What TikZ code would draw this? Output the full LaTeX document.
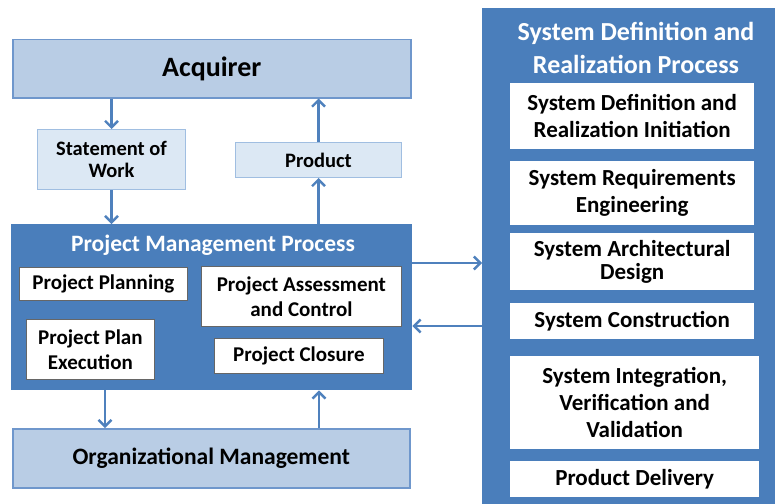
\documentclass[tikz,border=0pt]{standalone}
\usepackage{fontspec}
\setmainfont{Carlito}
\usetikzlibrary{arrows.meta}
\definecolor{mainblue}{RGB}{74,126,187}
\definecolor{lightblue}{RGB}{185,205,229}
\definecolor{paleblue}{RGB}{220,232,244}
\definecolor{edgeblue}{RGB}{111,151,204}
\definecolor{paleedge}{RGB}{160,190,225}
\definecolor{arrblue}{RGB}{79,129,189}
\newcommand{\fs}[1]{\fontsize{#1}{1.2\dimexpr#1pt\relax}\selectfont}
\tikzset{
  base/.style={rectangle, inner sep=0pt, anchor=north west, align=center, font=\bfseries},
  bigbox/.style={base, fill=lightblue, draw=edgeblue, line width=1.5pt},
  smallbox/.style={base, fill=paleblue, draw=paleedge, line width=1pt},
  procbox/.style={base, fill=mainblue, draw=none},
  pmbox/.style={base, fill=white, draw=black!60, line width=0.8pt},
  sdbox/.style={base, fill=white, draw=none},
  arr/.style={draw=arrblue, line width=2.8pt, -{Straight Barb[length=6.5pt,width=13pt,line width=2.4pt]}},
}
\begin{document}
\begin{tikzpicture}[x=1pt,y=-1pt]
\useasboundingbox (0,0) rectangle (775,503);
% Acquirer
\node[bigbox, minimum width=398pt, minimum height=58pt, font=\bfseries\fs{28}] (acq) at (12,39) {Acquirer};
\node[smallbox, minimum width=148pt, minimum height=60pt, font=\bfseries\fs{20.5}] (sow) at (37,129) {Statement of\\[-2pt]Work};
\node[smallbox, minimum width=166pt, minimum height=35pt, font=\bfseries\fs{20.5}] (prod) at (235,142) {Product};
% Project Management Process
\node[procbox, minimum width=401pt, minimum height=166pt] (pmp) at (11,224) {};
\node[font=\bfseries\fs{23.5}, text=white, inner sep=0pt] (pmpt) at (213,245) {Project Management Process};
\node[pmbox, minimum width=168pt, minimum height=33pt, font=\bfseries\fs{21}] (pp) at (19,267) {Project Planning};
\node[pmbox, minimum width=200pt, minimum height=60pt, font=\bfseries\fs{21}] (pac) at (201,266) {Project Assessment\\[0pt]and Control};
\node[pmbox, minimum width=128pt, minimum height=60pt, font=\bfseries\fs{21}] (ppe) at (26,319) {Project Plan\\[0pt]Execution};
\node[pmbox, minimum width=169pt, minimum height=35pt, font=\bfseries\fs{21}] (pc) at (214,338) {Project Closure};
% Organizational Management
\node[bigbox, minimum width=397pt, minimum height=59pt, font=\bfseries\fs{23.5}] (om) at (12,428) {Organizational Management};
% System Definition and Realization Process
\node[procbox, minimum width=300pt, minimum height=510pt] (sdrp) at (482,8) {};
\node[font=\bfseries\fs{26}, text=white, inner sep=0pt, align=center] (sdrpt) at (636,48) {System Definition and\\[1pt]Realization Process};
\node[sdbox, minimum width=244pt, minimum height=66pt, font=\bfseries\fs{23}] (s1) at (510,83) {System Definition and\\[-0.5pt]Realization Initiation};
\node[sdbox, minimum width=244pt, minimum height=64pt, font=\bfseries\fs{23}] (s2) at (510,161) {System Requirements\\[-0.5pt]Engineering};
\node[sdbox, minimum width=244pt, minimum height=57pt, font=\bfseries\fs{23}] (s3) at (510,233) {System Architectural\\[-5pt]Design};
\node[sdbox, minimum width=244pt, minimum height=36pt, font=\bfseries\fs{23}] (s4) at (510,303) {System Construction};
\node[sdbox, minimum width=249pt, minimum height=93pt, font=\bfseries\fs{23}] (s5) at (510,356) {System Integration,\\[-0.5pt]Verification and\\[-0.5pt]Validation};
\node[sdbox, minimum width=249pt, minimum height=36pt, font=\bfseries\fs{23}] (s6) at (510,461) {Product Delivery};
% helper coordinates
\coordinate (xl) at (105,0);
\coordinate (xr) at (319,0);
\coordinate (ya) at (0,263);
\coordinate (yb) at (0,326);
% connectors
\draw[arr] (acq.south -| sow.north) -- (sow.north);
\draw[arr] (sow.south) -- (pmp.north -| sow.south);
\draw[arr] (pmp.north -| prod.south) -- (prod.south);
\draw[arr] (prod.north) -- (acq.south -| prod.north);
\draw[arr] (pmp.south -| xl) -- (om.north -| xl);
\draw[arr] (om.north -| xr) -- (pmp.south -| xr);
\draw[arr] (pmp.east |- ya) -- (sdrp.west |- ya);
\draw[arr] (sdrp.west |- yb) -- (pmp.east |- yb);
\end{tikzpicture}
\end{document}
